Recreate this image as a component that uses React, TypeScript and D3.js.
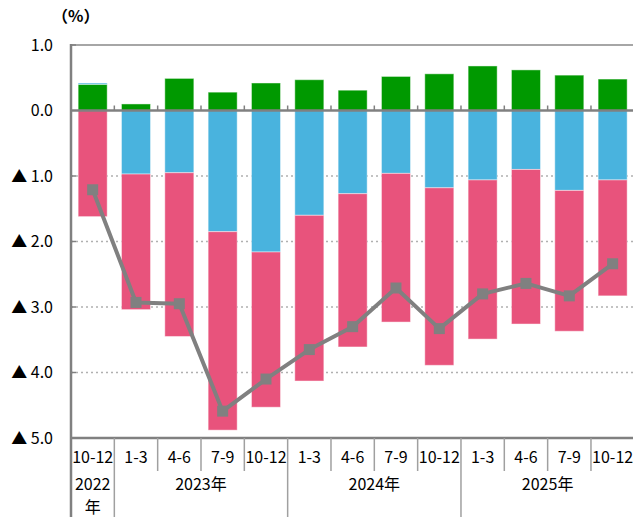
import React, { useEffect, useRef } from 'react';
import * as d3 from 'd3';

const quarters = ['10-12', '1-3', '4-6', '7-9', '10-12', '1-3', '4-6', '7-9', '10-12', '1-3', '4-6', '7-9', '10-12'];
const years = [
  { label: ['2022', '年'], start: 0, end: 1 },
  { label: ['2023年'], start: 1, end: 5 },
  { label: ['2024年'], start: 5, end: 9 },
  { label: ['2025年'], start: 9, end: 13 },
];
const greenVals = [0.40, 0.10, 0.49, 0.28, 0.42, 0.47, 0.31, 0.52, 0.56, 0.68, 0.62, 0.54, 0.48];
const blueVals = [0.02, -0.97, -0.95, -1.85, -2.16, -1.60, -1.27, -0.96, -1.18, -1.06, -0.90, -1.22, -1.06];
const pinkVals = [-1.62, -2.07, -2.50, -3.03, -2.37, -2.53, -2.34, -2.27, -2.71, -2.43, -2.36, -2.15, -1.77];
const lineVals = [-1.21, -2.93, -2.95, -4.59, -4.10, -3.65, -3.30, -2.71, -3.33, -2.80, -2.64, -2.83, -2.34];
const yTicks = [1, 0, -1, -2, -3, -4, -5];

const colors = { green: '#009900', blue: '#49B3DE', pink: '#E8537C' };
const FONT = '"Noto Sans CJK JP", "Noto Sans", sans-serif';

const App = () => {
  const svgRef = useRef(null);

  useEffect(() => {
    document.body.style.margin = '0';
    const svg = d3.select(svgRef.current);
    svg.selectAll('*').remove();

    const width = 633;
    const height = 517;
    const margin = { top: 45, left: 71, right: -1.3, bottom: 79 };

    const idx = quarters.map((_, i) => i);
    const x = d3.scaleBand()
      .domain(idx.map(String))
      .range([margin.left, width - margin.right])
      .paddingInner(0.33)
      .paddingOuter(0.165);
    const step = x.step();
    const bx = (i) => margin.left + step * i;

    const y = d3.scaleLinear().domain([-5, 1]).range([height - margin.bottom, margin.top]);

    const rows = idx.map(i => ({ key: String(i), green: greenVals[i], blue: blueVals[i], pink: pinkVals[i] }));
    const stack = d3.stack().keys(['green', 'blue', 'pink']).offset(d3.stackOffsetDiverging);
    const series = stack(rows);

    // gridlines
    const grid = svg.append('g');
    yTicks.forEach(t => {
      if (t === 0 || t === -5) return;
      grid.append('line')
        .attr('x1', margin.left).attr('x2', width)
        .attr('y1', y(t)).attr('y2', y(t))
        .attr('stroke', t === 1 ? '#a6a6a6' : '#b0b0b0')
        .attr('stroke-width', t === 1 ? 2 : 1.5)
        .attr('stroke-dasharray', t === 1 ? null : '2,3');
      grid.append('line')
        .attr('x1', margin.left).attr('x2', margin.left + 5)
        .attr('y1', y(t)).attr('y2', y(t))
        .attr('stroke', '#808080').attr('stroke-width', 1.5);
    });

    // bars
    series.forEach(s => {
      svg.append('g').selectAll('rect')
        .data(s)
        .join('rect')
        .attr('x', d => x(d.data.key))
        .attr('width', x.bandwidth())
        .attr('y', d => y(Math.max(d[0], d[1])))
        .attr('height', d => Math.abs(y(d[0]) - y(d[1])))
        .attr('fill', colors[s.key])
        .attr('stroke', 'rgba(255,255,255,0.45)')
        .attr('stroke-width', 1);
    });

    // zero line and boundary ticks
    svg.append('line')
      .attr('x1', margin.left).attr('x2', width)
      .attr('y1', y(0)).attr('y2', y(0))
      .attr('stroke', '#808080').attr('stroke-width', 2.5);
    idx.slice(1).forEach(i => {
      svg.append('line')
        .attr('x1', bx(i)).attr('x2', bx(i))
        .attr('y1', y(0)).attr('y2', y(0) - 5)
        .attr('stroke', '#808080').attr('stroke-width', 1.5);
    });

    // left axis
    svg.append('line')
      .attr('x1', margin.left).attr('x2', margin.left)
      .attr('y1', y(1) - 1).attr('y2', height)
      .attr('stroke', '#808080').attr('stroke-width', 2.5);

    // bottom axis
    svg.append('line')
      .attr('x1', margin.left).attr('x2', width)
      .attr('y1', y(-5)).attr('y2', y(-5))
      .attr('stroke', '#808080').attr('stroke-width', 2.5);

    // line series
    const line = d3.line()
      .x((d, i) => x(String(i)) + x.bandwidth() / 2)
      .y(d => y(d));
    svg.append('path')
      .datum(lineVals)
      .attr('fill', 'none')
      .attr('stroke', '#808080')
      .attr('stroke-width', 4)
      .attr('stroke-linejoin', 'round')
      .attr('d', line);
    svg.append('g').selectAll('rect')
      .data(lineVals)
      .join('rect')
      .attr('x', (d, i) => x(String(i)) + x.bandwidth() / 2 - 5.5)
      .attr('y', d => y(d) - 5.5)
      .attr('width', 11).attr('height', 11)
      .attr('fill', '#808080');

    // y labels
    svg.append('g').selectAll('text')
      .data(yTicks)
      .join('text')
      .attr('x', 53)
      .attr('y', d => y(d))
      .attr('dy', '0.35em')
      .attr('text-anchor', 'end')
      .attr('font-family', FONT)
      .attr('font-size', 16)
      .attr('fill', '#000')
      .text(d => (d < 0 ? '▲ ' : '') + Math.abs(d).toFixed(1));

    svg.append('text')
      .attr('x', 52).attr('y', 22)
      .attr('font-family', FONT)
      .attr('font-size', 16)
      .attr('font-weight', 'bold')
      .attr('fill', '#000')
      .text('（%）');

    // category axis
    const axisY = y(-5);
    idx.slice(1).forEach(i => {
      const isYear = years.some(yr => yr.start === i);
      svg.append('line')
        .attr('x1', bx(i)).attr('x2', bx(i))
        .attr('y1', axisY).attr('y2', isYear ? height : axisY + 33)
        .attr('stroke', '#a0a0a0').attr('stroke-width', 1.5);
    });
    svg.append('g').selectAll('text')
      .data(quarters)
      .join('text')
      .attr('x', (d, i) => bx(i) + step / 2)
      .attr('y', axisY + 19)
      .attr('dy', '0.35em')
      .attr('text-anchor', 'middle')
      .attr('font-family', FONT)
      .attr('font-size', 16)
      .attr('fill', '#000')
      .text(d => d);
    years.forEach(yr => {
      yr.label.forEach((l, j) => {
        svg.append('text')
          .attr('x', (bx(yr.start) + bx(yr.end)) / 2)
          .attr('y', axisY + 46 + j * 23)
          .attr('dy', '0.35em')
          .attr('text-anchor', 'middle')
          .attr('font-family', FONT)
          .attr('font-size', 16)
          .attr('fill', '#000')
          .text(l);
      });
    });
  }, []);

  return (
    <div>
      <svg ref={svgRef} width={633} height={517} style={{ display: 'block' }}></svg>
    </div>
  );
};

export default App;
